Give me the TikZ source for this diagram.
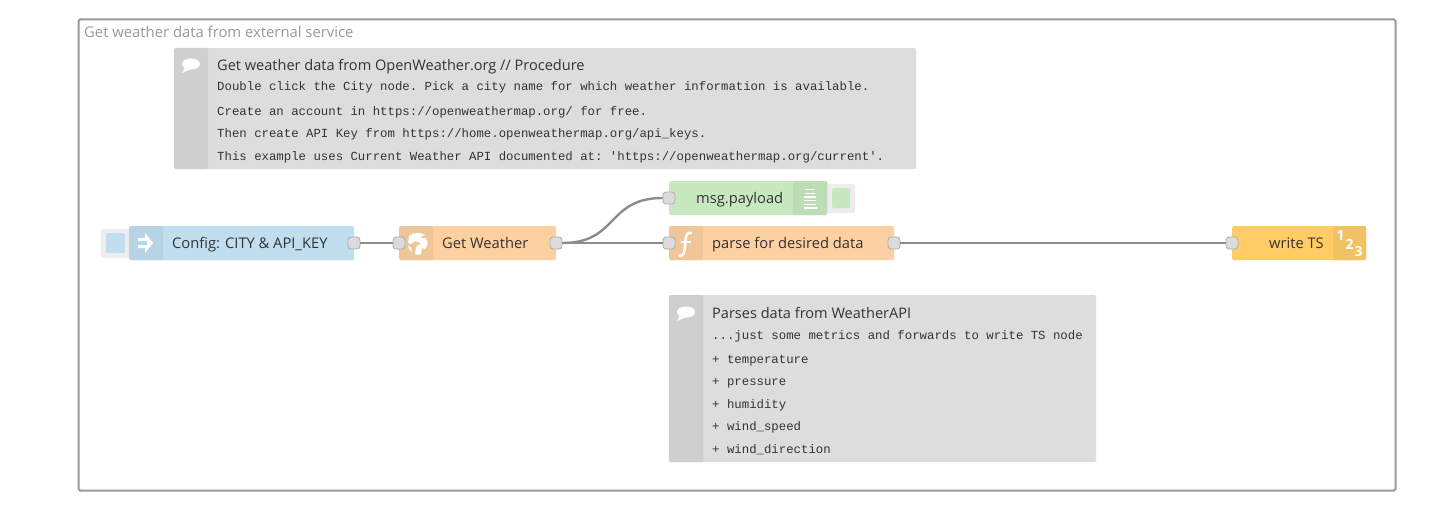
\documentclass[tikz,border=0pt]{standalone}
\usepackage{fontspec}
\setmainfont{Open Sans}
\setmonofont{Liberation Mono}
\definecolor{grp}{HTML}{999999}
\definecolor{wire}{HTML}{8C8C8C}
\definecolor{lab}{HTML}{333333}
\definecolor{cbody}{HTML}{DDDDDD}
\definecolor{cstrip}{HTML}{CFCFCF}
\definecolor{blue}{HTML}{C0DEED}
\definecolor{bluedk}{HTML}{B6D4E3}
\definecolor{orange}{HTML}{FDD0A2}
\definecolor{orangedk}{HTML}{F0C598}
\definecolor{green}{HTML}{C7E9C0}
\definecolor{greendk}{HTML}{BDDDB6}
\definecolor{yel}{HTML}{FFCC66}
\definecolor{yeldk}{HTML}{F2C161}
\tikzset{
  x=1pt,y=-1pt,
  box/.style={rounded corners=1.5pt,draw=none,fill=#1,inner sep=0pt,anchor=north west},
  port/.style={draw=black!32,line width=.8pt,fill=black!14,rounded corners=3pt,minimum width=12pt,minimum height=12pt,inner sep=0pt},
  wireline/.style={draw=wire,line width=2.4pt},
  nlab/.style={font=\fontsize{14.7}{16}\selectfont,text=lab,anchor=west,inner sep=0pt,text height=11pt,text depth=3pt,yshift=-2pt},
  ctitle/.style={nlab,font=\fontsize{14.55}{16}\selectfont},
  ctext/.style={font=\ttfamily\fontsize{12.35}{14}\selectfont,text=lab,anchor=west,inner sep=0pt,text height=9pt,text depth=3pt,yshift=-.5pt},
  glab/.style={nlab,font=\fontsize{14.83}{16}\selectfont,text=grp},
  numlab/.style={font=\bfseries\fontsize{14}{14}\selectfont,text=white,inner sep=0pt},
}
\newcommand{\bubble}[2]{%
  \fill[white] (#1,#2) ellipse [x radius=9pt,y radius=5.5pt];
  \fill[white!85!cstrip] (#1-6,#2+3) -- (#1-9,#2+9) -- (#1+1,#2+5) -- cycle;
}
\begin{document}
\begin{tikzpicture}
\useasboundingbox (0,0) rectangle (1449,511);
\fill[white] (0,0) rectangle (1449,511);
% group
\node[draw=grp,line width=2pt,rounded corners=1.5pt,minimum width=1317pt,minimum height=471pt,inner sep=0pt,anchor=north west] (group) at (77.5,18.5) {};
\node[glab] (grouplab) at (84,31.5) {Get weather data from external service};
% comment 1
\node[box=cbody,minimum width=742pt,minimum height=121pt] (c1) at (174,48) {};
\fill[cstrip,rounded corners=1.5pt] (174,48) rectangle (208,169);
\bubble{191}{64}
\node[ctitle] (c1t) at (217,64.5) {Get weather data from OpenWeather.org // Procedure};
\node[ctext] (c1a) at (217,87.5) {Double click the City node. Pick a city name for which weather information is available.};
\node[ctext] (c1b) at (217,112) {Create an account in https://openweathermap.org/ for free.};
\node[ctext] (c1c) at (217,134) {Then create API Key from https://home.openweathermap.org/api\_keys.};
\node[ctext] (c1d) at (217,157) {This example uses Current Weather API documented at: 'https://openweathermap.org/current'.};
% comment 2
\node[box=cbody,minimum width=427pt,minimum height=167pt] (c2) at (669,295) {};
\fill[cstrip,rounded corners=1.5pt] (669,295) rectangle (703,462);
\bubble{686}{312}
\node[ctitle] (c2t) at (712,312) {Parses data from WeatherAPI};
\node[ctext] (c2a) at (712,336) {...just some metrics and forwards to write TS node};
\node[ctext] (c2b) at (712,359.5) {+ temperature};
\node[ctext] (c2c) at (712,382) {+ pressure};
\node[ctext] (c2d) at (712,404.5) {+ humidity};
\node[ctext] (c2e) at (712,427) {+ wind\_speed};
\node[ctext] (c2f) at (712,449.5) {+ wind\_direction};
% inject button
\node[box=black!7,minimum width=30pt,minimum height=29pt] (injbtn) at (101,229) {};
\node[box=blue,minimum width=19pt,minimum height=20pt] (injsq) at (106,233) {};
% inject
\node[box=blue,minimum width=225pt,minimum height=34pt] (cfg) at (129,226) {};
\fill[bluedk,rounded corners=1.5pt] (129,226) rectangle (163,260);
\fill[white] (138,238) -- (145,238) -- (145,233) -- (153,243) -- (145,253) -- (145,248) -- (138,248) -- (138,245) -- (147,245) -- (147,241) -- (138,241) -- cycle;
\node[nlab] (cfgl) at (172,242.5) {Config: CITY \& API\_KEY};
% get weather
\node[box=orange,minimum width=157pt,minimum height=34pt] (gw) at (399,226) {};
\fill[orangedk,rounded corners=1.5pt] (399,226) rectangle (433,260);
\fill[white] (409,236) .. controls (413,232) and (420,232) .. (425,235) -- (420,238) -- (426,238) .. controls (428,242) and (428,246) .. (425,249) -- (422,248) -- (421,254) .. controls (419,255) and (417,255) .. (415,254) -- (416,247) -- (421,243) -- (415,241) -- (411,244) -- (408,243) -- cycle;
\fill[white] (408,246) -- (411,247) -- (412,252) .. controls (410,251) and (409,249) .. (408,246) -- cycle;
\node[nlab] (gwl) at (442,242.5) {Get Weather};
% function
\node[box=orange,minimum width=225pt,minimum height=34pt] (fn) at (669,226) {};
\fill[orangedk,rounded corners=1.5pt] (669,226) rectangle (703,260);
\draw[white,line width=2.6pt] (692,233) .. controls (687,232) and (686,235) .. (685.5,240) -- (684.5,250) .. controls (684,255) and (682,256.5) .. (678.5,255.5);
\draw[white,line width=2pt] (680.5,241.5) -- (691,241.5);
\node[nlab] (fnl) at (712,242.5) {parse for desired data};
% debug
\node[box=black!7,minimum width=30pt,minimum height=29pt] (dbgbtn) at (825,184) {};
\node[box=green,minimum width=18pt,minimum height=20pt] (dbgsq) at (832,188) {};
\node[box=green,minimum width=158pt,minimum height=34pt] (dbg) at (669,181) {};
\fill[greendk,rounded corners=1.5pt] (793,181) rectangle (827,215);
\foreach \yy/\w in {189.5/5,193.2/5,197/6,200.7/6,204.5/6,208/6.5}{\draw[white,line width=1.3pt] (810-\w,\yy) -- (810+\w,\yy);}
\node[nlab] (dbgl) at (696,197.5) {msg.payload};
% write TS
\node[box=yel,minimum width=134pt,minimum height=34pt] (ts) at (1232,226) {};
\fill[yeldk,rounded corners=1.5pt] (1333,226) rectangle (1366,260);
\node[numlab] (n1) at (1340.5,236) {1};
\node[numlab] (n2) at (1349.5,244.5) {2};
\node[numlab] (n3) at (1358.5,251) {3};
\node[nlab] (tsl) at (1269,242.5) {write TS};
% ports
\node[port] (cfgo) at (354,243) {};
\node[port] (gwi) at (399,243) {};
\node[port] (gwo) at (556,243) {};
\node[port] (dbgi) at (669,198) {};
\node[port] (fni) at (669,243) {};
\node[port] (fno) at (894,243) {};
\node[port] (tsi) at (1232,243) {};
% wires
\draw[wireline] (cfgo.east) -- (gwi.west);
\draw[wireline] (gwo.east) -- (fni.west);
\draw[wireline] (gwo.east) .. controls +(56,0) and +(-56,0) .. (dbgi.west);
\draw[wireline] (fno.east) -- (tsi.west);
\end{tikzpicture}
\end{document}
